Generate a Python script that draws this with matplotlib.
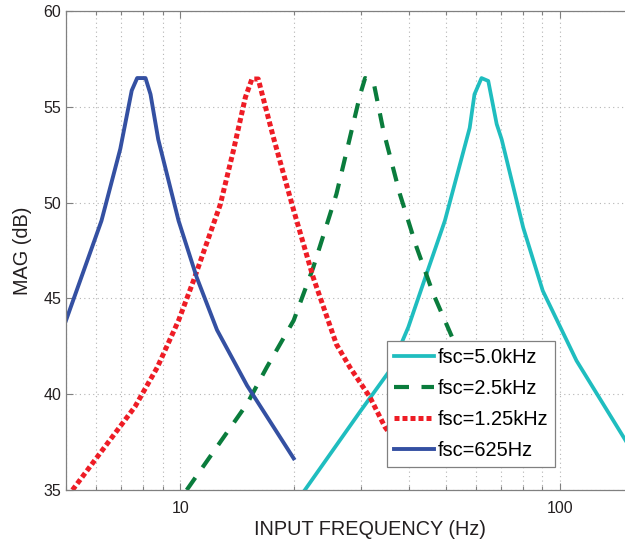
import numpy as np
import matplotlib
matplotlib.use("Agg")
from matplotlib import pyplot as plt
from matplotlib.ticker import LogLocator, FixedLocator, NullFormatter, FixedFormatter

plt.rcParams['font.family'] = ['Liberation Sans', 'DejaVu Sans']

# magnitude response for each sampling clock (Hz in, dB out)
cyan_f = [21.3, 29.8, 35.7, 39.9, 44.6, 49.8, 57.9, 59.6, 62.2, 64.8, 68.2, 70.3, 80.1, 90.2, 110.7, 150.0]
cyan_db = [35.0, 39.1, 41.25, 43.5, 46.3, 49.05, 53.9, 55.65, 56.5, 56.35, 54.1, 53.3, 48.7, 45.4, 41.75, 37.5]

green_f = [10.4, 15.0, 16.9, 19.9, 22.4, 25.8, 28.0, 29.8, 30.7, 32.3, 34.3, 37.9, 41.9, 46.4, 52.5, 62.0, 68.0, 78.0]
green_db = [35.0, 39.5, 41.4, 43.85, 46.6, 50.45, 53.4, 55.65, 56.5, 56.3, 53.75, 50.45, 47.7, 45.25, 42.8, 39.9, 38.3, 36.5]

red_f = [5.2, 7.6, 8.7, 9.9, 10.85, 12.75, 13.8, 14.85, 15.45, 16.05, 17.6, 19.9, 22.4, 25.8, 28.0, 31.6, 34.6, 40.0]
red_db = [35.0, 39.35, 41.4, 43.85, 45.95, 49.9, 52.7, 55.5, 56.45, 56.45, 53.4, 49.6, 46.1, 42.6, 41.4, 39.85, 38.3, 36.6]

blue_f = [5.0, 6.2, 6.95, 7.45, 7.7, 8.1, 8.35, 8.75, 9.9, 11.05, 12.5, 15.0, 19.9]
blue_db = [43.85, 49.05, 52.8, 55.85, 56.5, 56.5, 55.65, 53.3, 49.05, 46.1, 43.35, 40.45, 36.65]

labels = ["fsc=5.0kHz", "fsc=2.5kHz", "fsc=1.25kHz", "fsc=625Hz"]
y_ticks = [35, 40, 45, 50, 55, 60]
x_ticks = [10, 100]

fig = plt.figure(figsize=(6.25, 5.48), dpi=100)
# axes run past the right edge of the figure on purpose
ax = fig.add_axes([66 / 625, 58 / 548, 608 / 625, 479 / 548])

ax.plot(cyan_f, cyan_db, color='#1fbdbf', lw=2.7, label=labels[0])
ax.plot(green_f, green_db, color='#0a7c3c', lw=3.0, linestyle=(0, (3.6, 3.0)),
        dash_capstyle='butt', label=labels[1])
ax.plot(red_f, red_db, color='#ee1c25', lw=3.6, linestyle=(0, (1.0, 0.6)),
        dash_capstyle='butt', label=labels[2])
ax.plot(blue_f, blue_db, color='#3450a2', lw=2.8, label=labels[3])

ax.set_xscale('log')
ax.set_xlim(5, 200)
ax.set_ylim(35, 60)
ax.xaxis.set_major_locator(FixedLocator(x_ticks))
ax.xaxis.set_major_formatter(FixedFormatter([str(t) for t in x_ticks]))
ax.xaxis.set_minor_locator(LogLocator(base=10, subs=np.arange(2, 10), numticks=20))
ax.xaxis.set_minor_formatter(NullFormatter())
ax.set_yticks(y_ticks)

ax.grid(True, which='major', axis='both', color='#b4b4b4', linestyle=(0, (1, 3)), lw=0.8)
ax.grid(True, which='minor', axis='x', color='#b4b4b4', linestyle=(0, (1, 3)), lw=0.8)

ax.tick_params(which='both', direction='in', top=True, right=True, colors='#808080',
               labelcolor='#231f20', labelsize=11.5)
ax.tick_params(which='major', length=5, width=0.8)
ax.tick_params(which='minor', length=3, width=0.8)
ax.tick_params(axis='x', which='major', pad=8)
for s in ax.spines.values():
    s.set_color('#808080')
    s.set_linewidth(0.9)

ax.set_xlabel("INPUT FREQUENCY (Hz)", fontsize=14.3, color='#231f20', labelpad=3)
ax.set_ylabel("MAG (dB)", fontsize=14.3, color='#231f20', labelpad=8)

leg = ax.legend(loc='upper left', bbox_to_anchor=((386.7 - 66) / 608, (490 - 341) / 479),
                fontsize=14.4, handlelength=2.0, handletextpad=0.2, borderpad=0.35,
                labelspacing=0.6, fancybox=False, framealpha=1.0, borderaxespad=0)
leg.get_frame().set_edgecolor('#808080')
leg.get_frame().set_linewidth(0.9)

fig.savefig("out.png", dpi=100)
